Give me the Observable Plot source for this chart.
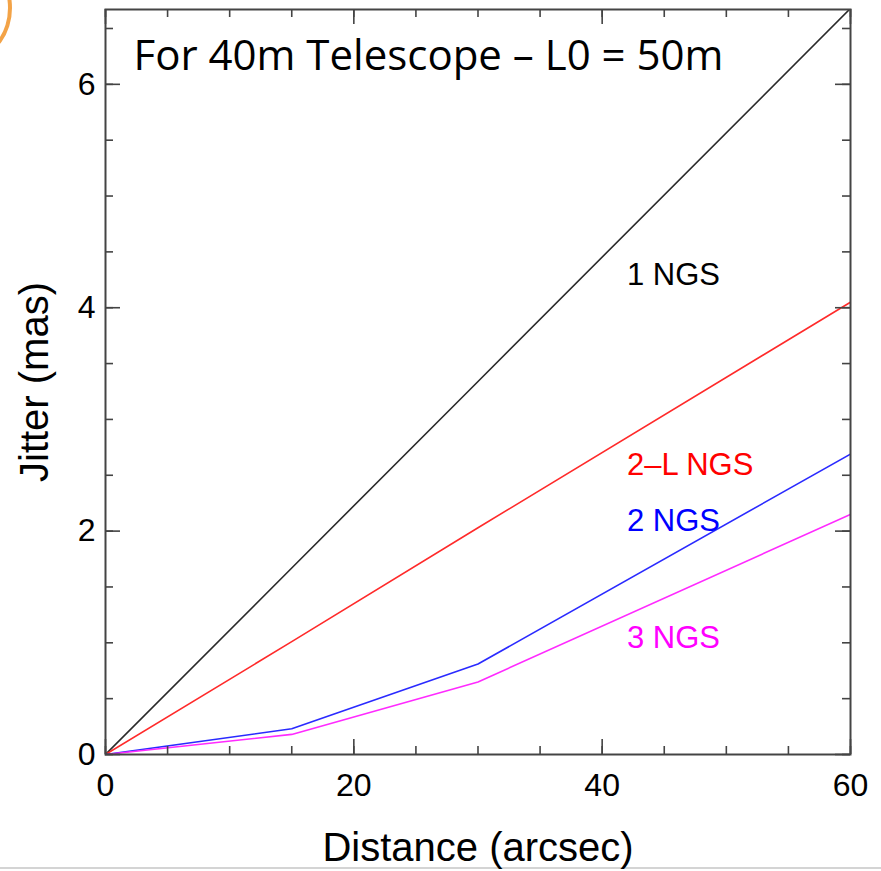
<!DOCTYPE html>
<html>
<head>
<meta charset="utf-8">
<script src="https://cdn.jsdelivr.net/npm/d3@7"></script>
<script src="https://cdn.jsdelivr.net/npm/@observablehq/plot@0.6"></script>
<style>
  html, body { margin: 0; padding: 0; background: #fff; }
  #wrap { position: relative; width: 881px; height: 871px; overflow: hidden; }
  #arc { position: absolute; left: -60px; top: -40px; width: 64px; height: 88px; border: 4px solid #f3a347; border-radius: 50%; }
  #rule { position: absolute; left: 0; top: 867px; width: 881px; height: 2px; background: #d4d4d4; }
</style>
</head>
<body>
<div id="wrap"><div id="arc"></div><div id="rule"></div></div>
<script>
// Data
const distance = [0, 15, 30, 60];
const ngs1 = [0, 1.67, 3.34, 6.68];
const ngs2L = [0, 1.01, 2.03, 4.05];
const ngs2 = [0, 0.23, 0.81, 2.69];
const ngs3 = [0, 0.18, 0.65, 2.15];

const seriesNames = ["1 NGS", "2\u2013L NGS", "2 NGS", "3 NGS"];
const seriesColors = ["#2a2a2a", "#ff2a2a", "#2a2aff", "#ff2aff"];
const labelColors = ["#000000", "#ff0000", "#0000ff", "#ff00ff"];
const labelX = [42, 42, 42, 42];
const labelY = [4.29, 2.59, 2.09, 1.04];

const xMajor = [0, 20, 40, 60];
const xMinor = d3.range(0, 61, 5);
const yMajor = [0, 2, 4, 6];
const yMinor = d3.range(0, 6.6, 0.5);

const allSeries = [ngs1, ngs2L, ngs2, ngs3];
const rows = allSeries.flatMap((vals, i) =>
  vals.map((v, j) => ({ series: seriesNames[i], x: distance[j], y: v }))
);
const labels = seriesNames.map((s, i) => ({ s, x: labelX[i], y: labelY[i], c: labelColors[i] }));

const W = 881, H = 871;
const mL = 105, mR = 31, mT = 9, mB = 117;
const innerW = W - mL - mR, innerH = H - mT - mB;
const tickColor = "#444";

const chart = Plot.plot({
  width: W,
  height: H,
  marginLeft: mL,
  marginRight: mR,
  marginTop: mT,
  marginBottom: mB,
  style: { fontFamily: "Liberation Sans, Arial, sans-serif", fontSize: "32px", background: "transparent", overflow: "visible" },
  x: { domain: [0, 60], axis: null },
  y: { domain: [0, 6.67], axis: null },
  color: { domain: seriesNames, range: seriesColors },
  marks: [
    // data lines
    Plot.line(rows, { x: "x", y: "y", z: "series", stroke: "series", strokeWidth: 1.6, clip: true }),
    // inward ticks: bottom / top
    Plot.ruleX(xMinor, { x: d => d, stroke: tickColor, strokeWidth: 1.6, insetTop: innerH - 8 }),
    Plot.ruleX(xMajor, { x: d => d, stroke: tickColor, strokeWidth: 1.6, insetTop: innerH - 15 }),
    Plot.ruleX(xMinor, { x: d => d, stroke: tickColor, strokeWidth: 1.6, insetBottom: innerH - 8 }),
    Plot.ruleX(xMajor, { x: d => d, stroke: tickColor, strokeWidth: 1.6, insetBottom: innerH - 15 }),
    // inward ticks: left / right
    Plot.ruleY(yMinor, { y: d => d, stroke: tickColor, strokeWidth: 1.6, insetRight: innerW - 8 }),
    Plot.ruleY(yMajor, { y: d => d, stroke: tickColor, strokeWidth: 1.6, insetRight: innerW - 15 }),
    Plot.ruleY(yMinor, { y: d => d, stroke: tickColor, strokeWidth: 1.6, insetLeft: innerW - 8 }),
    Plot.ruleY(yMajor, { y: d => d, stroke: tickColor, strokeWidth: 1.6, insetLeft: innerW - 15 }),
    Plot.frame({ stroke: tickColor, strokeWidth: 2 }),
    // tick labels
    Plot.axisX({ ticks: xMajor, tickSize: 0, tickPadding: 19, tickFormat: d3.format("d"), label: null, fontSize: 32, fill: "#000" }),
    Plot.axisY({ ticks: yMajor, tickSize: 0, tickPadding: 10, tickFormat: d3.format("d"), label: null, fontSize: 32, fill: "#000" }),
    // axis titles
    Plot.text(["Distance (arcsec)"], { frameAnchor: "bottom", lineAnchor: "middle", textAnchor: "middle", dy: 94, fontSize: 40, fill: "#000" }),
    Plot.text(["Jitter (mas)"], { frameAnchor: "left", lineAnchor: "middle", textAnchor: "middle", rotate: -90, dx: -70, fontSize: 40, fill: "#000" }),
    // series labels
    Plot.text(labels, { x: "x", y: "y", text: "s", fill: "c", textAnchor: "start", fontSize: 31 }),
    // overlaid title
    Plot.text(["For 40m Telescope \u2013 L0 = 50m"], { frameAnchor: "top-left", dx: 28, dy: 47, lineAnchor: "middle", textAnchor: "start", fontSize: 42, fontFamily: "Open Sans, Noto Sans, sans-serif", fill: "#000" })
  ]
});
chart.style.position = "absolute";
chart.style.left = "0";
chart.style.top = "0";
document.getElementById("wrap").appendChild(chart);
</script>
</body>
</html>
